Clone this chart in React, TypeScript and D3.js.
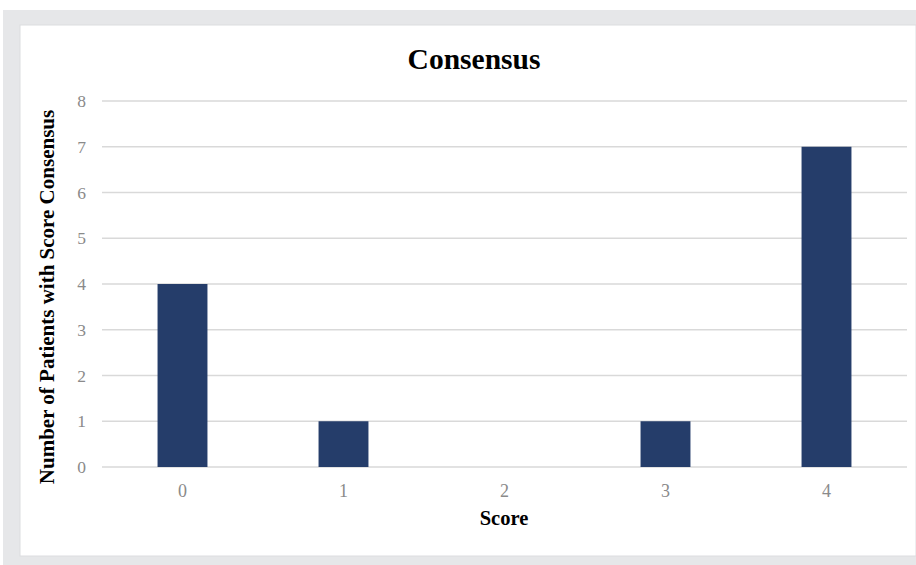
import React from "react";
import * as d3 from "d3";

const categories = ["0", "1", "2", "3", "4"];
const counts = [4, 1, 0, 1, 7];
const yTicks = [0, 1, 2, 3, 4, 5, 6, 7, 8];
const title = "Consensus";
const xTitle = "Score";
const yTitle = "Number of Patients with Score Consensus";

const W = 916;
const H = 565;
const plot = { left: 102, right: 907, top: 101, bottom: 467 };
const serif = "'Liberation Serif', 'Times New Roman', serif";

export default function App() {
  const x = d3
    .scaleBand<string>()
    .domain(categories)
    .range([plot.left, plot.right])
    .paddingInner(0.69)
    .paddingOuter(0.345);
  const y = d3.scaleLinear().domain([0, 8]).range([plot.bottom, plot.top]);

  return (
    <div style={{ position: "fixed", left: 0, top: 0 }}>
      <svg width={W} height={H} style={{ display: "block" }}>
        <rect x={0} y={0} width={W} height={H} fill="#ffffff" />
        <rect x={3} y={10} width={W - 3} height={H - 10} fill="#e6e7e9" />
        <rect x={20} y={25} width={W - 20} height={531} fill="#ffffff" stroke="#dcdde0" strokeWidth={1} />
        <text x={474} y={69} textAnchor="middle" fontFamily={serif} fontWeight="bold" fontSize={29.5} fill="#000">
          {title}
        </text>
        {yTicks.map((t) => (
          <g key={t}>
            <line x1={plot.left} x2={plot.right} y1={y(t)} y2={y(t)} stroke="#d9d9d9" strokeWidth={1.5} />
            <text x={86} y={y(t) + 6} textAnchor="end" fontFamily={serif} fontSize={17.5} fill="#8a8a8a">
              {t}
            </text>
          </g>
        ))}
        {categories.map((c, i) => (
          <g key={c}>
            <rect
              x={x(c)}
              y={y(counts[i])}
              width={x.bandwidth()}
              height={y(0) - y(counts[i])}
              fill="#253d6a"
            />
            <text
              x={(x(c) as number) + x.bandwidth() / 2}
              y={497}
              textAnchor="middle"
              fontFamily={serif}
              fontSize={18}
              fill="#8a8a8a"
            >
              {c}
            </text>
          </g>
        ))}
        <text x={504} y={525} textAnchor="middle" fontFamily={serif} fontWeight="bold" fontSize={20.5} fill="#000">
          {xTitle}
        </text>
        <text
          transform={`translate(54, 297) rotate(-90)`}
          textAnchor="middle"
          fontFamily={serif}
          fontWeight="bold"
          fontSize={21}
          fill="#000"
        >
          {yTitle}
        </text>
      </svg>
    </div>
  );
}
